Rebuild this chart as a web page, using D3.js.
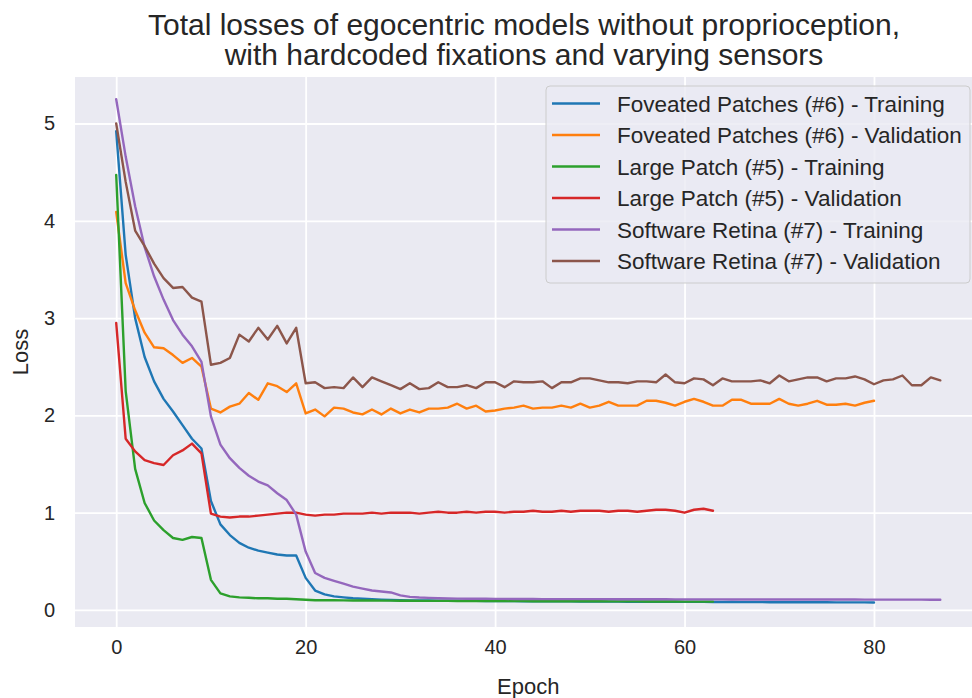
<!DOCTYPE html>
<html>
<head>
<meta charset="utf-8">
<script src="https://cdn.jsdelivr.net/npm/d3@7"></script>
<style>
  body { margin: 0; background: #fff; }
  svg text { font-family: "Liberation Sans", Arial, sans-serif; fill: #262626; }
</style>
</head>
<body>
<svg id="chart"></svg>
<script>
// values, one per epoch starting at 0
const fpTrain = [4.92, 3.65, 3.0, 2.6, 2.35, 2.17, 2.04, 1.9, 1.76, 1.66,
  1.12, 0.88, 0.77, 0.69, 0.64, 0.61, 0.59, 0.57, 0.56, 0.56,
  0.33, 0.2, 0.16, 0.14, 0.13, 0.12, 0.115, 0.11, 0.105, 0.102,
  0.1, 0.099, 0.098, 0.097, 0.096, 0.095, 0.095, 0.094, 0.093, 0.093,
  0.092, 0.091, 0.091, 0.09, 0.09, 0.089, 0.089, 0.088, 0.088, 0.087,
  0.087, 0.087, 0.086, 0.086, 0.085, 0.085, 0.085, 0.084, 0.084, 0.084,
  0.083, 0.083, 0.083, 0.082, 0.082, 0.082, 0.081, 0.081, 0.081, 0.08,
  0.08, 0.08, 0.08, 0.079, 0.079, 0.079, 0.078, 0.078, 0.078, 0.078,
  0.077];
const fpVal = [4.09, 3.36, 3.08, 2.85, 2.7, 2.69, 2.62, 2.54, 2.59, 2.5,
  2.07, 2.03, 2.09, 2.12, 2.23, 2.16, 2.33, 2.3, 2.24, 2.33,
  2.02, 2.06, 1.99, 2.08, 2.07, 2.03, 2.01, 2.06, 2.01, 2.07,
  2.02, 2.06, 2.03, 2.07, 2.07, 2.08, 2.12, 2.07, 2.1, 2.04,
  2.05, 2.07, 2.08, 2.1, 2.07, 2.08, 2.08, 2.1, 2.08, 2.12,
  2.08, 2.1, 2.14, 2.1, 2.1, 2.1, 2.15, 2.15, 2.13, 2.1,
  2.14, 2.17, 2.14, 2.1, 2.1, 2.16, 2.16, 2.12, 2.12, 2.12,
  2.17, 2.12, 2.1, 2.12, 2.15, 2.11, 2.11, 2.12, 2.1, 2.13,
  2.15];
const lpTrain = [4.47, 2.25, 1.45, 1.1, 0.92, 0.82, 0.74, 0.72, 0.75, 0.74,
  0.31, 0.17, 0.14, 0.13, 0.125, 0.12, 0.12, 0.115, 0.115, 0.11,
  0.105, 0.1, 0.1, 0.1, 0.099, 0.098, 0.097, 0.097, 0.096, 0.096,
  0.095, 0.095, 0.094, 0.094, 0.094, 0.093, 0.093, 0.093, 0.092, 0.092,
  0.092, 0.091, 0.091, 0.091, 0.09, 0.09, 0.09, 0.09, 0.089, 0.089,
  0.089, 0.089, 0.088, 0.088, 0.088, 0.088, 0.087, 0.087, 0.087, 0.087,
  0.086, 0.086, 0.086, 0.086];
const lpVal = [2.95, 1.76, 1.63, 1.54, 1.51, 1.49, 1.59, 1.64, 1.71, 1.61,
  0.99, 0.96, 0.95, 0.96, 0.96, 0.97, 0.98, 0.99, 1.0, 1.0,
  0.98, 0.97, 0.98, 0.98, 0.99, 0.99, 0.99, 1.0, 0.99, 1.0,
  1.0, 1.0, 0.99, 1.0, 1.01, 1.0, 1.0, 1.01, 1.0, 1.01,
  1.01, 1.0, 1.01, 1.01, 1.02, 1.01, 1.01, 1.02, 1.01, 1.02,
  1.02, 1.02, 1.01, 1.02, 1.02, 1.01, 1.02, 1.03, 1.03, 1.02,
  1.0, 1.03, 1.04, 1.02];
const srTrain = [5.25, 4.66, 4.15, 3.73, 3.43, 3.19, 2.98, 2.83, 2.71, 2.55,
  1.99, 1.7, 1.56, 1.46, 1.38, 1.32, 1.28, 1.2, 1.13, 0.98,
  0.6, 0.38, 0.33, 0.3, 0.27, 0.24, 0.22, 0.2, 0.19, 0.18,
  0.15, 0.135, 0.128, 0.124, 0.12, 0.118, 0.117, 0.116, 0.115, 0.115,
  0.114, 0.114, 0.113, 0.113, 0.113, 0.112, 0.112, 0.112, 0.112, 0.111,
  0.111, 0.111, 0.111, 0.11, 0.11, 0.11, 0.11, 0.11, 0.11, 0.109,
  0.109, 0.109, 0.109, 0.109, 0.109, 0.108, 0.108, 0.108, 0.108, 0.108,
  0.108, 0.108, 0.107, 0.107, 0.107, 0.107, 0.107, 0.107, 0.107, 0.106,
  0.106, 0.106, 0.106, 0.106, 0.106, 0.106, 0.105, 0.105];
const srVal = [5.0, 4.4, 3.9, 3.74, 3.56, 3.41, 3.31, 3.32, 3.21, 3.17,
  2.52, 2.54, 2.59, 2.83, 2.76, 2.9, 2.78, 2.92, 2.74, 2.9,
  2.33, 2.34, 2.28, 2.29, 2.28, 2.39, 2.29, 2.39, 2.35, 2.31,
  2.27, 2.33, 2.27, 2.28, 2.34, 2.29, 2.29, 2.31, 2.28, 2.34,
  2.34, 2.29, 2.35, 2.34, 2.34, 2.35, 2.28, 2.34, 2.34, 2.38,
  2.38, 2.36, 2.34, 2.34, 2.33, 2.35, 2.35, 2.34, 2.42, 2.34,
  2.33, 2.38, 2.37, 2.31, 2.38, 2.35, 2.35, 2.35, 2.36, 2.33,
  2.41, 2.35, 2.37, 2.39, 2.39, 2.35, 2.38, 2.38, 2.4, 2.37,
  2.32, 2.36, 2.37, 2.41, 2.31, 2.31, 2.39, 2.36];

const seriesNames = [
  "Foveated Patches (#6) - Training",
  "Foveated Patches (#6) - Validation",
  "Large Patch (#5) - Training",
  "Large Patch (#5) - Validation",
  "Software Retina (#7) - Training",
  "Software Retina (#7) - Validation"
];
const seriesValues = [fpTrain, fpVal, lpTrain, lpVal, srTrain, srVal];
const xTicks = [0, 20, 40, 60, 80];
const yTicks = [0, 1, 2, 3, 4, 5];

class LossChart {
    constructor(_config = {}, _data) {
        this.config = {
            parentElement: _config.parentElement,
            width: 972,
            height: 698,
            plot: { left: 75, right: 981.5, top: 77, bottom: 627 },
            xDomain: [-4.35, 91.35],
            yDomain: [-0.175, 5.478],
            colors: ["#1f77b4", "#ff7f0e", "#2ca02c", "#d62728", "#9467bd", "#8c564b"],
            title: ["Total losses of egocentric models without proprioception,",
                    "with hardcoded fixations and varying sensors"],
            titleFontSize: 30,
            labelFontSize: 22,
            tickFontSize: 20,
            legendFontSize: 22.5
        };
        this.data = _data;
        this.initVis();
    }

    initVis() {
        let vis = this;
        const p = vis.config.plot;

        vis.svg = d3.select(vis.config.parentElement)
            .attr('width', vis.config.width)
            .attr('height', vis.config.height);

        vis.xScale = d3.scaleLinear().domain(vis.config.xDomain).range([p.left, p.right]);
        vis.yScale = d3.scaleLinear().domain(vis.config.yDomain).range([p.bottom, p.top]);

        vis.svg.append('rect')
            .attr('x', p.left).attr('y', p.top)
            .attr('width', p.right - p.left).attr('height', p.bottom - p.top)
            .attr('fill', '#eaeaf2');

        vis.svg.append('clipPath').attr('id', 'plot-clip')
            .append('rect')
            .attr('x', p.left).attr('y', p.top)
            .attr('width', p.right - p.left).attr('height', p.bottom - p.top);

        // grid lines drawn by the axes, ticks stretched across the plot
        vis.xAxis = d3.axisBottom(vis.xScale).tickValues(xTicks)
            .tickSize(-(p.bottom - p.top)).tickPadding(13).tickFormat(d3.format('d'));
        vis.yAxis = d3.axisLeft(vis.yScale).tickValues(yTicks)
            .tickSize(-(p.right - p.left)).tickPadding(20).tickFormat(d3.format('d'));

        vis.xAxisG = vis.svg.append('g')
            .attr('transform', `translate(0, ${p.bottom})`)
            .call(vis.xAxis);
        vis.yAxisG = vis.svg.append('g')
            .attr('transform', `translate(${p.left}, 0)`)
            .call(vis.yAxis);

        [vis.xAxisG, vis.yAxisG].forEach(g => {
            g.select('.domain').remove();
            g.selectAll('.tick line').attr('stroke', '#fff').attr('stroke-width', 1.8);
            g.selectAll('.tick text')
                .attr('fill', '#262626')
                .style('font-size', vis.config.tickFontSize + 'px')
                .style('font-family', '"Liberation Sans", Arial, sans-serif');
        });

        vis.title = vis.svg.append('g');
        vis.config.title.forEach((t, i) => {
            vis.title.append('text')
                .attr('x', 524)
                .attr('y', 35 + i * 30)
                .attr('text-anchor', 'middle')
                .style('font-size', vis.config.titleFontSize + 'px')
                .text(t);
        });

        vis.svg.append('text')
            .attr('x', (p.left + p.right) / 2)
            .attr('y', 694)
            .attr('text-anchor', 'middle')
            .style('font-size', vis.config.labelFontSize + 'px')
            .text('Epoch');

        vis.svg.append('text')
            .attr('transform', `translate(28, ${(p.top + p.bottom) / 2}) rotate(-90)`)
            .attr('text-anchor', 'middle')
            .style('font-size', vis.config.labelFontSize + 'px')
            .text('Loss');

        vis.chart = vis.svg.append('g').attr('clip-path', 'url(#plot-clip)');
        vis.renderVis();
    }

    renderVis() {
        let vis = this;

        const line = d3.line()
            .x((d, i) => vis.xScale(i))
            .y(d => vis.yScale(d));

        vis.chart.selectAll('.series')
            .data(vis.data)
            .enter()
            .append('path')
            .attr('class', 'series')
            .attr('d', d => line(d.values))
            .attr('fill', 'none')
            .attr('stroke', (d, i) => vis.config.colors[i])
            .attr('stroke-width', 2.4)
            .attr('stroke-linejoin', 'round')
            .attr('stroke-linecap', 'round');

        // legend, upper right
        const legend = vis.svg.append('g');
        legend.append('rect')
            .attr('x', 546).attr('y', 86)
            .attr('width', 424).attr('height', 197)
            .attr('rx', 4)
            .attr('fill', '#eaeaf2').attr('fill-opacity', 0.8)
            .attr('stroke', '#cccccc').attr('stroke-width', 1);

        const rows = legend.selectAll('.legend-row')
            .data(vis.data)
            .enter()
            .append('g')
            .attr('class', 'legend-row')
            .attr('transform', (d, i) => `translate(0, ${103.5 + i * 31.5})`);

        rows.append('line')
            .attr('x1', 552).attr('x2', 600)
            .attr('stroke', (d, i) => vis.config.colors[i])
            .attr('stroke-width', 2.5);

        rows.append('text')
            .attr('x', 617)
            .attr('y', 0)
            .attr('dy', '0.36em')
            .style('font-size', vis.config.legendFontSize + 'px')
            .text(d => d.name);
    }
}

const lossData = seriesNames.map((name, i) => ({ name: name, values: seriesValues[i] }));
new LossChart({ parentElement: '#chart' }, lossData);
</script>
</body>
</html>
